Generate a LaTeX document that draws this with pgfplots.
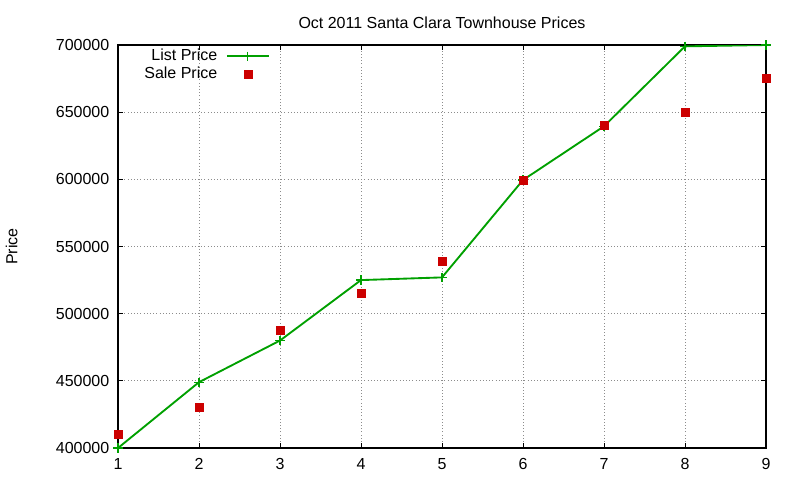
\documentclass[border=0pt]{standalone}
\usepackage{pgfplots}
\pgfplotsset{compat=1.18}
\usepackage{fontspec}
\setmainfont{Liberation Sans}

\definecolor{listgreen}{RGB}{0,160,0}
\definecolor{salered}{RGB}{204,0,0}

\begin{document}
\begin{tikzpicture}[x=0.75pt,y=0.75pt]
% keep page size equal to the 800x480 reference
\path (-118,-32) rectangle (682,448);
\begin{axis}[
  at={(0,0)}, anchor=south west,
  width=486pt, height=302.25pt, scale only axis,
  xmin=1, xmax=9, ymin=400000, ymax=700000,
  xtick={1,...,9},
  ytick={400000,450000,...,700000},
  scaled y ticks=false,
  /pgf/number format/assume math mode=true,
  yticklabel style={/pgf/number format/fixed, /pgf/number format/1000 sep={}, xshift=-3pt},
  xticklabel style={yshift=-4pt},
  tick align=inside, major tick length=4pt,
  grid=major,
  major grid style={dotted, gray!90, line width=0.6pt},
  axis line style={line width=0.8pt},
  tick style={black, line width=0.6pt},
  font=\fontsize{12}{14}\selectfont,
  title={Oct 2011 Santa Clara Townhouse Prices},
  title style={font=\fontsize{12}{14}\selectfont, yshift=3pt},
  ylabel={Price},
  ylabel style={at={(axis description cs:-0.164,0.5)}, anchor=center},
  legend style={draw=none, fill=none, at={(rel axis cs:0.03,1.003)}, anchor=north west,
    font=\fontsize{12}{12}\selectfont, row sep=-1pt},
  legend cell align=right,
  legend plot pos=right,
  legend image code/.code={
    \path (0cm,0cm);
    \draw[mark repeat=2, mark phase=2, #1] plot coordinates {(0.16cm,0cm) (0.71cm,0cm) (1.26cm,0cm)};
  },
]
\addplot[color=listgreen, line width=1.4pt, mark=+, mark size=3.5pt, mark options={line width=1pt}] coordinates {
  (1,400000) (2,449000) (3,480000) (4,525000) (5,527000)
  (6,599500) (7,639500) (8,699000) (9,700000)
};
\addlegendentry{List Price}
\addplot[only marks, mark=square*, mark size=3pt, color=salered] coordinates {
  (1,410000) (2,430000) (3,488000) (4,515000) (5,539000)
  (6,599000) (7,640000) (8,650000) (9,675000)
};
\addlegendentry{Sale Price}
\end{axis}
\end{tikzpicture}
\end{document}
